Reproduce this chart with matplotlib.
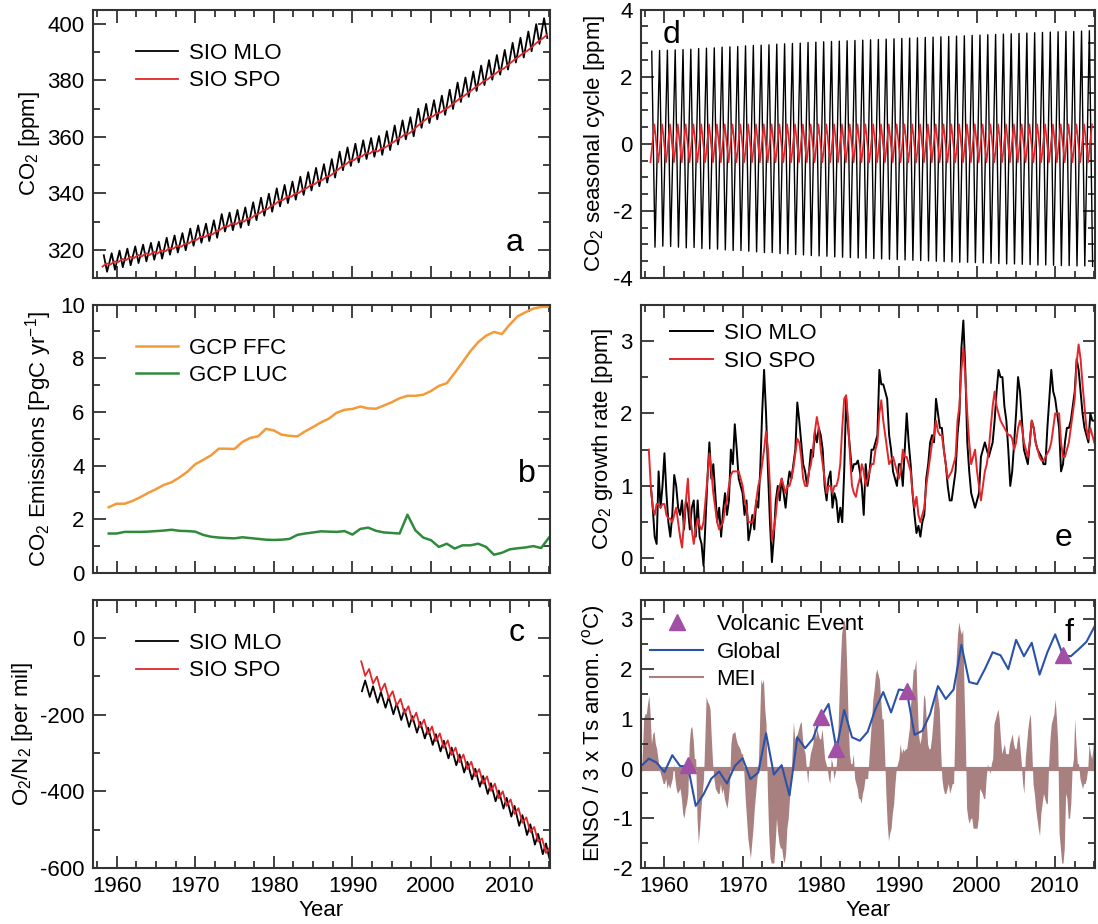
import numpy as np
import matplotlib
matplotlib.use('Agg')
import matplotlib.pyplot as plt
from matplotlib.ticker import MultipleLocator
from matplotlib.lines import Line2D

plt.rcParams['font.family'] = ['Liberation Sans', 'DejaVu Sans']
plt.rcParams['mathtext.default'] = 'regular'
plt.rcParams['font.size'] = 16
plt.rcParams['axes.unicode_minus'] = False

# ---- panel a / d : CO2 at MLO and SPO (annual means + seasonal extremes) ----
co2_years = np.arange(1958, 2015)
mlo_mean = [315.3, 316.0, 316.9, 317.6, 318.4, 319.0, 319.6, 320.0, 321.4, 322.2,
            323.0, 324.6, 325.7, 326.3, 327.5, 329.7, 330.2, 331.1, 332.0, 333.8,
            335.4, 336.8, 338.7, 339.9, 341.1, 342.8, 344.4, 345.9, 347.2, 349.0,
            351.6, 353.1, 354.4, 355.6, 356.4, 357.1, 358.8, 360.8, 362.6, 363.7,
            366.7, 368.4, 369.7, 371.3, 373.4, 375.9, 377.7, 379.8, 381.9, 383.8,
            385.6, 387.4, 389.9, 391.7, 393.9, 396.5, 398.6]
spo_mean = [314.6, 315.3, 316.2, 316.9, 317.6, 318.2, 318.7, 319.2, 320.0, 320.9,
            321.6, 322.8, 324.1, 325.0, 326.0, 327.7, 328.8, 329.6, 330.5, 331.9,
            333.5, 335.0, 336.8, 338.2, 339.3, 340.7, 342.4, 343.8, 345.3, 346.8,
            349.0, 350.9, 352.3, 353.6, 354.6, 355.3, 356.8, 358.6, 360.4, 361.7,
            364.2, 366.4, 367.7, 369.1, 370.9, 373.1, 375.0, 377.1, 379.1, 380.9,
            382.9, 384.6, 386.9, 389.0, 390.9, 393.3, 395.4]
# seasonal cycle maxima (May) and minima (Oct) at MLO
mlo_seas_max = [2.76, 2.78, 2.79, 2.80, 2.81, 2.82, 2.84, 2.85, 2.86, 2.88,
                2.89, 2.90, 2.92, 2.93, 2.94, 2.95, 2.97, 2.98, 2.99, 3.00,
                3.02, 3.03, 3.04, 3.05, 3.06, 3.07, 3.08, 3.09, 3.10, 3.11,
                3.12, 3.13, 3.14, 3.15, 3.16, 3.17, 3.18, 3.19, 3.20, 3.21,
                3.22, 3.23, 3.24, 3.25, 3.26, 3.27, 3.28, 3.29, 3.30, 3.31,
                3.32, 3.33, 3.34, 3.35, 3.35, 3.36, 3.37]
mlo_seas_min = [-3.08, -3.05, -3.06, -3.08, -3.10, -3.09, -3.12, -3.13, -3.14, -3.16,
                -3.18, -3.18, -3.20, -3.22, -3.24, -3.24, -3.27, -3.28, -3.30, -3.31,
                -3.33, -3.34, -3.35, -3.37, -3.38, -3.39, -3.40, -3.41, -3.42, -3.43,
                -3.44, -3.45, -3.46, -3.47, -3.48, -3.49, -3.50, -3.51, -3.52, -3.53,
                -3.53, -3.54, -3.55, -3.56, -3.57, -3.58, -3.58, -3.59, -3.60, -3.61,
                -3.61, -3.62, -3.63, -3.63, -3.64, -3.64, -3.65]
# SPO seasonal cycle minimum (Mar) and maximum (Sep)
spo_seas_min = -0.55
spo_seas_max = 0.58

# ---- panel b : GCP emissions ----
gcp_years = np.arange(1959, 2016)
ffc = [2.45, 2.58, 2.58, 2.68, 2.82, 2.98, 3.12, 3.28, 3.38, 3.56,
       3.77, 4.05, 4.21, 4.38, 4.63, 4.63, 4.62, 4.88, 5.03, 5.09,
       5.37, 5.31, 5.15, 5.11, 5.09, 5.28, 5.44, 5.61, 5.75, 5.97,
       6.08, 6.11, 6.20, 6.13, 6.12, 6.24, 6.36, 6.51, 6.60, 6.60,
       6.64, 6.78, 6.97, 7.07, 7.45, 7.85, 8.26, 8.60, 8.84, 8.98,
       8.90, 9.25, 9.56, 9.71, 9.85, 9.91, 9.92]
luc = [1.47, 1.47, 1.53, 1.53, 1.53, 1.54, 1.56, 1.58, 1.61, 1.57,
       1.56, 1.54, 1.42, 1.35, 1.32, 1.30, 1.29, 1.33, 1.30, 1.27,
       1.24, 1.23, 1.24, 1.27, 1.42, 1.47, 1.51, 1.55, 1.54, 1.53,
       1.56, 1.43, 1.64, 1.69, 1.57, 1.51, 1.49, 1.47, 2.17, 1.59,
       1.32, 1.22, 0.97, 1.09, 0.91, 1.03, 1.03, 1.09, 0.97, 0.68,
       0.75, 0.88, 0.92, 0.95, 1.00, 0.93, 1.32]

# ---- panel c : O2/N2 ----
o2_years = np.arange(1991, 2016)
o2_mlo_mean = [-125, -140, -155, -168, -185, -200, -218, -233, -248, -265, -282, -300,
               -318, -337, -355, -374, -393, -412, -431, -452, -476, -500, -525, -550,
               -575]
o2_spo_mean = [-80, -100, -120, -138, -158, -178, -197, -214, -232, -250, -268, -286,
               -305, -323, -342, -361, -380, -399, -419, -440, -463, -487, -512, -542,
               -565]
o2_mlo_amp = 14   # peak Aug, trough Mar
o2_spo_amp = 19   # peak Feb, trough Aug

# ---- panel e : CO2 growth rate, quarterly ----
gr_mlo = [1.0, 0.7, 0.3,
          0.2, 1.2, 0.7, 1.0,   1.45, 0.9, 0.5, 0.3,   0.6, 1.15, 1.0, 0.7,
          0.6, 0.8, 0.4, 0.8,   0.7, 0.4, 0.7, 0.8,    0.3, 0.8, 0.3, 0.2,
          -0.1, 0.5, 1.1, 1.6,  1.1, 1.3, 0.9, 0.5,    0.7, 0.3, 0.65, 0.9,
          0.6, 0.8, 1.5, 1.3,   1.85, 1.5, 1.1, 1.0,   0.9, 0.6, 0.8, 0.25,
          0.4, 0.6, 0.4, 0.8,   0.7, 1.2, 2.0, 2.6,    2.0, 1.2, 0.5, -0.05,
          0.3, 0.8, 1.0, 0.8,   1.1, 0.9, 0.7, 1.0,    1.2, 1.1, 1.3, 1.5,
          2.15, 1.9, 1.6, 1.3,  1.2, 1.0, 1.2, 1.5,    1.4, 1.75, 1.6, 1.8,
          1.7, 1.5, 1.0, 0.8,   1.1, 1.2, 0.7, 0.9,    0.8, 0.5, 0.7, 0.5,
          1.2, 2.2, 1.8, 1.5,   1.2, 1.3, 1.3, 1.35,   1.2, 1.0, 0.6, 1.3,
          1.0, 1.2, 1.5, 1.5,   1.6, 1.7, 2.6, 2.4,    2.4, 2.3, 2.2, 1.7,
          1.5, 1.2, 1.1, 1.0,   1.3, 1.3, 1.0, 1.5,    2.0, 1.6, 1.3, 0.9,
          0.6, 0.35, 0.45, 0.3, 0.5, 0.6, 1.1, 1.3,    1.6, 1.7, 1.6, 2.2,
          2.0, 1.8, 1.8, 1.5,   1.3, 1.0, 0.8, 0.8,    1.0, 1.2, 1.7, 2.0,
          2.9, 3.28, 2.6, 1.6,  1.2, 0.9, 0.8, 0.7,    0.8, 0.9, 1.4, 1.5,
          1.6, 1.5, 1.4, 1.5,   1.6, 1.9, 2.3, 2.6,    2.5, 2.5, 2.1, 1.9,
          1.5, 1.0, 1.2, 1.6,   2.0, 2.5, 2.3, 1.9,    1.5, 1.4, 1.3, 1.6,
          1.9, 1.8, 1.6, 1.5,   1.45, 1.4, 1.3, 1.3,   1.8, 2.2, 2.6, 2.3,
          2.2, 2.0, 1.8, 1.2,   1.3, 1.6, 1.8, 1.8,    1.9, 2.1, 2.3, 2.75,
          2.6, 2.3, 2.0, 1.8,   1.7, 1.6, 2.0, 1.9,
          1.9]
gr_spo = [1.5, 1.0, 0.7, 0.6,
          0.75, 0.75, 0.7, 0.75, 0.75, 0.6, 0.55, 0.55, 0.5, 0.6, 0.7, 0.5,
          0.3, 0.15, 0.5, 0.8,   1.1, 0.6, 0.4, 0.2,   0.4, 0.55, 0.45, 0.4,
          0.5, 0.8, 1.1, 1.45,   1.2, 0.9, 0.7, 0.5,   0.4, 0.45, 0.5, 0.7,
          0.8, 1.0, 1.15, 1.2,   1.2, 1.2, 1.2, 1.1,   1.0, 0.8, 0.7, 0.5,
          0.5, 0.5, 0.6, 0.8,    1.0, 1.1, 1.3, 1.5,   1.75, 1.5, 1.0, 0.25,
          0.4, 0.6, 0.9, 1.0,    1.1, 1.0, 0.9, 1.0,   1.0, 1.1, 1.25, 1.45,
          1.65, 1.6, 1.4, 1.1,   1.0, 1.0, 1.2, 1.3,   1.5, 1.75, 1.95, 1.8,
          1.5, 1.3, 1.1, 0.9,    1.0, 1.0, 0.9, 1.0,   1.0, 1.1, 1.3, 1.8,
          2.2, 2.25, 1.9, 1.4,   1.0, 0.9, 0.85, 1.0,  1.1, 1.3, 1.2, 1.0,
          1.1, 1.2, 1.3, 1.3,    1.5, 1.6, 2.0, 2.18,  1.9, 1.7, 1.5, 1.3,
          1.35, 1.4, 1.3, 1.2,   1.1, 1.2, 1.5, 1.4,   1.4, 1.3, 1.2, 0.9,
          0.7, 0.85, 0.6, 0.5,   0.6, 0.7, 1.0, 1.2,   1.4, 1.6, 1.7, 1.9,
          1.75, 1.7, 1.7, 1.5,   1.3, 1.1, 1.15, 1.2,  1.3, 1.4, 1.9, 2.1,
          2.6, 2.9, 2.5, 2.0,    1.6, 1.3, 1.4, 1.5,   1.2, 1.0, 0.8, 1.0,
          1.2, 1.3, 1.5, 1.8,    2.1, 2.3, 2.1, 2.0,   1.9, 1.85, 1.8, 1.75,
          1.7, 1.7, 1.65, 1.5,   1.6, 1.8, 1.9, 1.8,   1.6, 1.5, 1.4, 1.6,
          1.9, 1.8, 1.6, 1.5,    1.4, 1.35, 1.35, 1.4, 1.45, 1.5, 1.6, 1.8,
          2.0, 2.0, 2.0, 1.6,    1.4, 1.4, 1.5, 1.6,   1.8, 2.0, 2.2, 2.7,
          2.95, 2.75, 2.4, 2.1,  1.8, 1.65, 1.8, 1.7,
          1.6]
gr_mlo_start = 1958.25
gr_spo_start = 1958.0

# ---- panel f : ENSO (MEI, bimonthly) and 3 x global Ts anomaly ----
mei_start = 1957.0
mei = [-0.35, 0.3, 1.0, 1.1, 1.1, 1.3,
       1.47, 1.1, 0.5, 0.7, 0.75, 0.5,
       0.4, 0.2, 0.0, -0.1, -0.2, -0.3,
       -0.3, -0.2, -0.4, -0.3, -0.4, -0.3,
       -0.2, 0.1, -0.2, -0.4, -0.5, -0.45,
       -0.4, -0.6, -0.9, -1.0, -0.8, -0.7,
       -0.5, 0.5, 0.8, 0.85, 0.6, 0.2,
       0.2, -1.0, -1.5, -1.2, -0.8, -0.5,
       -0.2, 0.6, 1.45, 1.35, 1.3, 1.2,
       0.6, 0.1, -0.2, -0.4, -0.45, -0.5,
       -0.5, -0.3, -0.5, -0.4, -0.6, -0.7,
       -0.8, -0.6, -0.3, 0.5, 0.7, 0.72,
       0.75, 0.6, 0.5, 0.45, 0.4, 0.3,
       0.3, -0.1, -0.6, -1.0, -1.4, -1.6,
       -1.8, -1.5, -1.2, -0.8, -0.5, -0.2,
       0.0, 0.9, 1.8, 1.7, 1.8, 1.2,
       0.9, -0.4, -1.3, -1.8, -1.9, -1.9,
       -1.9, -1.5, -1.0, -1.3, -1.5, -1.6,
       -1.6, -1.8, -1.9, -1.7, -1.2, -1.0,
       -0.6, -0.3, 0.3, 0.95, 0.6, 0.65,
       0.7, 0.8, 0.9, 0.95, 0.6, 0.4,
       0.3, 0.0, -0.3, 0.1, 0.3, 0.4,
       0.5, 0.9, 0.6, 0.8, 0.7, 0.6,
       0.6, 0.8, 0.5, 0.2, 0.1, 0.0,
       -0.2, -0.3, 0.2, 0.1, -0.2, -0.1,
       0.1, 0.6, 1.4, 2.1, 2.7, 2.9,
       3.0, 2.8, 2.0, 1.0, 0.3, 0.1,
       0.1, 0.3, -0.2, -0.3, -0.4, -0.6,
       -0.6, -0.7, -0.5, -0.4, -0.2, -0.2,
       -0.2, 0.2, 0.6, 1.0, 1.4, 1.6,
       1.9, 2.0, 1.9, 1.8, 1.4, 1.0,
       1.0, 0.3, -0.5, -1.1, -1.45, -1.3,
       -1.2, -0.9, -0.7, -0.3, 0.0, 0.1,
       0.2, 0.5, 0.3, 0.4, 0.35, 0.4,
       0.4, 0.6, 0.8, 1.3, 1.6, 2.0,
       2.0, 2.2, 1.4, 0.7, 0.5, 0.6,
       0.9, 1.5, 1.4, 1.0, 0.5, 0.4,
       0.4, 0.6, 0.9, 1.3, 1.6, 1.6,
       1.4, 1.2, 0.4, -0.2, -0.4, -0.5,
       -0.5, -0.4, -0.3, -0.5, -0.4, -0.3,
       -0.3, 0.8, 2.2, 2.7, 2.95, 2.8,
       2.7, 2.8, 1.6, 0.6, -0.8, -1.0,
       -1.1, -1.0, -1.0, -1.2, -1.2, -1.2,
       -1.2, -1.0, -0.4, -0.45, -0.5, -0.6,
       -0.6, -0.2, 0.1, 0.0, -0.1, 0.1,
       0.2, 0.9, 1.0, 1.1, 1.2, 1.0,
       0.6, 0.3, 0.4, 0.5, 0.3, 0.3,
       0.3, 0.5, 0.6, 0.7, 0.5, 0.4,
       0.4, 0.6, 0.7, 0.4, 0.1, -0.3,
       -0.5, 0.2, 0.5, 0.8, 1.0, 1.1,
       0.4, -0.3, -0.5, -0.8, -1.0, -1.2,
       -1.35, -0.9, -0.7, -0.5, -0.6, -0.7,
       -0.7, 0.1, 0.6, 0.9, 1.0, 1.1,
       1.4, 1.0, 0.5, -1.3, -1.6, -1.9,
       -1.9, -1.6, -0.5, -0.6, -1.0, -1.0,
       -0.7, 0.0, 0.2, 1.0, 0.5, 0.1,
       0.1, -0.2, -0.3, -0.4, -0.3, -0.3,
       -0.2, 0.0, 0.5, 0.3, 0.2, 0.4,
       1.0]
ts_years = np.arange(1957, 2016)
ts_global = [0.05, 0.2, 0.12, -0.07, 0.27, 0.05, 0.05, -0.75, -0.52, -0.2,
             -0.06, -0.3, 0.05, 0.21, -0.21, -0.08, 0.71, -0.12, 0.07, -0.54,
             0.63, 0.41, 0.6, 1.03, 1.3, 0.39, 1.18, 0.63, 0.56, 0.74,
             1.2, 1.54, 1.13, 1.59, 1.57, 0.68, 0.76, 1.1, 1.66, 1.4,
             1.59, 2.49, 1.74, 1.7, 2.0, 2.34, 2.28, 2.0, 2.59, 2.26,
             2.53, 1.89, 2.34, 2.7, 2.28, 2.26, 2.4, 2.55, 2.85]
volc_years = [1963, 1980, 1982, 1991, 2011]
volc_vals = [0.07, 1.03, 0.40, 1.57, 2.28]

RED = '#e3262b'
ORANGE = '#f39a3a'
GREEN = '#2f8a3c'
BLUE = '#2a52a8'
MEI_C = '#a98080'
PURPLE = '#a24fa6'


def zigzag(years, t1, v1, t2, v2):
    t, v = [], []
    for i, y in enumerate(years):
        t += [y + t1, y + t2]
        v += [v1[i], v2[i]]
    return np.array(t), np.array(v)


def style(ax, ymaj, ymin, ylim, xlabels=False):
    ax.set_xlim(1957, 2015.1)
    ax.set_ylim(*ylim)
    ax.xaxis.set_major_locator(MultipleLocator(10))
    ax.xaxis.set_minor_locator(MultipleLocator(2.5))
    ax.yaxis.set_major_locator(MultipleLocator(ymaj))
    ax.yaxis.set_minor_locator(MultipleLocator(ymin))
    ax.tick_params(which='both', direction='in', top=True, right=True,
                   width=1.3, color='#333333', labelsize=16, pad=6)
    ax.tick_params(which='major', length=9)
    ax.tick_params(which='minor', length=5)
    for s in ax.spines.values():
        s.set_linewidth(1.5)
        s.set_color('#333333')
    if xlabels:
        ax.set_xlabel('Year', fontsize=16, labelpad=2)
    else:
        ax.tick_params(labelbottom=False)


def legend(ax, x, y, **kw):
    ax.legend(loc='upper left', bbox_to_anchor=(x, y), frameon=False, fontsize=16,
              handlelength=1.9, handletextpad=0.5, labelspacing=0.3, borderaxespad=0, **kw)


def letter(ax, s, x, y):
    ax.text(x, y, s, transform=ax.transAxes, fontsize=23, ha='center', va='center')


fig = plt.figure(figsize=(10.98, 9.24), dpi=100)
L, LW = 0.0847, 0.416
R, RW = 0.5838, 0.4135
rows = [0.6991, 0.3799, 0.0606]
H = 0.2905

ax_a = fig.add_axes([L, rows[0], LW, H])
ax_b = fig.add_axes([L, rows[1], LW, H])
ax_c = fig.add_axes([L, rows[2], LW, H])
ax_d = fig.add_axes([R, rows[0], RW, H])
ax_e = fig.add_axes([R, rows[1], RW, H])
ax_f = fig.add_axes([R, rows[2], RW, H])

# a
mlo_hi = np.array(mlo_mean) + np.array(mlo_seas_max)
mlo_lo = np.array(mlo_mean) + np.array(mlo_seas_min)
t_mlo, v_mlo = zigzag(co2_years, 0.375, mlo_hi, 0.79, mlo_lo)
spo_lo = np.array(spo_mean) + spo_seas_min
spo_hi = np.array(spo_mean) + spo_seas_max
t_spo, v_spo = zigzag(co2_years, 0.21, spo_lo, 0.71, spo_hi)
ax_a.plot(t_mlo, v_mlo, color='black', lw=1.3, label='SIO MLO')
ax_a.plot(t_spo, v_spo, color=RED, lw=1.3, label='SIO SPO')
style(ax_a, 20, 10, (310, 405))
ax_a.set_ylabel('CO$_2$ [ppm]')
legend(ax_a, 0.075, 0.91)
letter(ax_a, 'a', 0.923, 0.13)

# b
ax_b.plot(gcp_years, ffc, color=ORANGE, lw=1.8, label='GCP FFC')
ax_b.plot(gcp_years, luc, color=GREEN, lw=1.8, label='GCP LUC')
style(ax_b, 2, 1, (0, 10))
ax_b.set_ylabel('CO$_2$ Emissions [PgC yr$^{-1}$]')
legend(ax_b, 0.075, 0.91)
letter(ax_b, 'b', 0.95, 0.37)

# c
t_o2m, v_o2m = zigzag(o2_years, 0.21, np.array(o2_mlo_mean) - o2_mlo_amp,
                      0.62, np.array(o2_mlo_mean) + o2_mlo_amp)
t_o2s, v_o2s = zigzag(o2_years, 0.12, np.array(o2_spo_mean) + o2_spo_amp,
                      0.62, np.array(o2_spo_mean) - o2_spo_amp)
ax_c.plot(t_o2m, v_o2m, color='black', lw=1.3, label='SIO MLO')
ax_c.plot(t_o2s, v_o2s, color=RED, lw=1.3, label='SIO SPO')
style(ax_c, 200, 100, (-600, 100), xlabels=True)
ax_c.set_ylabel('O$_2$/N$_2$ [per mil]')
legend(ax_c, 0.075, 0.91)
letter(ax_c, 'c', 0.928, 0.875)

# d
t_dm, v_dm = zigzag(co2_years, 0.375, mlo_seas_max, 0.79, mlo_seas_min)
t_ds, v_ds = zigzag(co2_years, 0.21, [spo_seas_min] * len(co2_years),
                    0.71, [spo_seas_max] * len(co2_years))
ax_d.plot(t_dm, v_dm, color='black', lw=1.0)
ax_d.plot(t_ds, v_ds, color=RED, lw=1.2)
style(ax_d, 2, 0.5, (-4, 4))
ax_d.set_ylabel('CO$_2$ seasonal cycle [ppm]')
letter(ax_d, 'd', 0.068, 0.905)

# e
t_gm = gr_mlo_start + 0.25 * np.arange(len(gr_mlo))
t_gs = gr_spo_start + 0.25 * np.arange(len(gr_spo))
ax_e.plot(t_gm, gr_mlo, color='black', lw=1.4, label='SIO MLO')
ax_e.plot(t_gs, gr_spo, color=RED, lw=1.4, label='SIO SPO')
style(ax_e, 1, 0.5, (-0.2, 3.5))
ax_e.set_ylabel('CO$_2$ growth rate [ppm]')
legend(ax_e, 0.045, 0.965)
letter(ax_e, 'e', 0.93, 0.13)

# f
t_mei = mei_start + np.arange(len(mei)) / 6.0
ax_f.fill_between(t_mei, mei, 0, color=MEI_C, lw=0)
ax_f.axhline(0, color=MEI_C, lw=3)
ax_f.plot(ts_years, ts_global, color=BLUE, lw=1.5)
ax_f.plot(volc_years, volc_vals, ls='none', marker='^', ms=12, color=PURPLE)
style(ax_f, 1, 0.5, (-2, 3.4), xlabels=True)
ax_f.set_ylabel('ENSO / 3 x Ts anom. ($^o$C)')
handles = [Line2D([], [], ls='none', marker='^', ms=12, color=PURPLE),
           Line2D([], [], color=BLUE, lw=1.5),
           Line2D([], [], color=MEI_C, lw=1.5)]
ax_f.legend(handles, ['Volcanic Event', 'Global', 'MEI'], loc='upper left',
            bbox_to_anchor=(0.0, 0.98), frameon=False, fontsize=16, handlelength=2.4,
            handletextpad=0.6, labelspacing=0.3, borderaxespad=0)
letter(ax_f, 'f', 0.943, 0.875)

fig.savefig('out.png', dpi=100)
